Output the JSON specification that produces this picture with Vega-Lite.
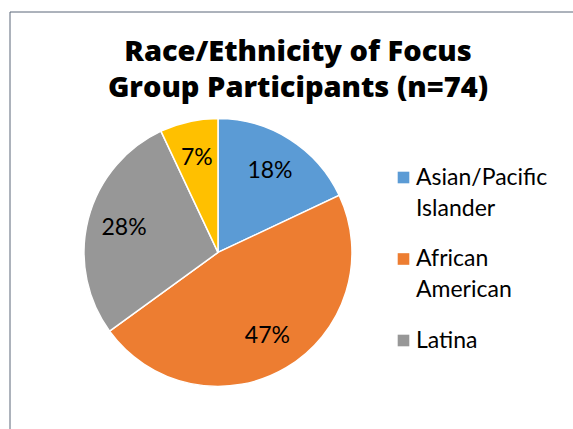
{
  "$schema": "https://vega.github.io/schema/vega-lite/v6.json",
  "autosize": {"type": "none"},
  "width": 565,
  "height": 419,
  "padding": {"left": 9.5, "top": 11.5, "right": -1.5, "bottom": -1.5},
  "background": "white",
  "view": {"stroke": "#5A6678", "strokeWidth": 1, "fill": null},
  "title": {
    "text": ["Race/Ethnicity of Focus", "Group Participants (n=74)"],
    "font": "Open Sans",
    "fontSize": 29,
    "fontWeight": 800,
    "color": "black",
    "lineHeight": 36,
    "anchor": "middle",
    "baseline": "alphabetic",
    "offset": -114,
    "dx": 6
  },
  "data": {
    "values": [
      {"group": "Asian/Pacific Islander", "pct": 18, "label": "18%", "ord": 1},
      {"group": "African American", "pct": 47, "label": "47%", "ord": 2},
      {"group": "Latina", "pct": 28, "label": "28%", "ord": 3},
      {"group": "Other", "pct": 7, "label": "7%", "ord": 4}
    ]
  },
  "encoding": {
    "theta": {"field": "pct", "type": "quantitative", "stack": true},
    "order": {"field": "ord", "type": "quantitative"},
    "color": {
      "field": "group",
      "type": "nominal",
      "scale": {
        "domain": ["Asian/Pacific Islander", "African American", "Latina", "Other"],
        "range": ["#5B9BD5", "#ED7D31", "#979797", "#FFC000"]
      },
      "legend": {
        "title": null,
        "orient": "none",
        "legendX": 382.5,
        "legendY": 154.5,
        "values": ["Asian/Pacific Islander", "African American", "Latina"],
        "symbolType": "square",
        "symbolSize": 135,
        "symbolStrokeWidth": 0,
        "labelFont": "Lato",
        "labelFontSize": 23,
        "labelColor": "black",
        "labelOffset": 1,
        "labelLimit": 250,
        "rowPadding": 26.5,
        "labelExpr": "datum.label == 'Asian/Pacific Islander' ? ['Asian/Pacific', 'Islander'] : datum.label == 'African American' ? ['African', 'American'] : datum.label"
      }
    }
  },
  "layer": [
    {
      "mark": {
        "type": "arc",
        "radius": 134,
        "stroke": "white",
        "strokeWidth": 1.5,
        "x": {"expr": "width * 0.369"},
        "y": {"expr": "height * 0.575"}
      }
    },
    {
      "mark": {
        "type": "text",
        "radius": 97,
        "font": "Lato",
        "fontSize": 23,
        "x": {"expr": "width * 0.369"},
        "y": {"expr": "height * 0.575"}
      },
      "encoding": {
        "text": {"field": "label", "type": "nominal"},
        "color": {"value": "black"}
      }
    }
  ],
  "config": {
    "style": {"guide-label": {"lineHeight": 31}}
  }
}
